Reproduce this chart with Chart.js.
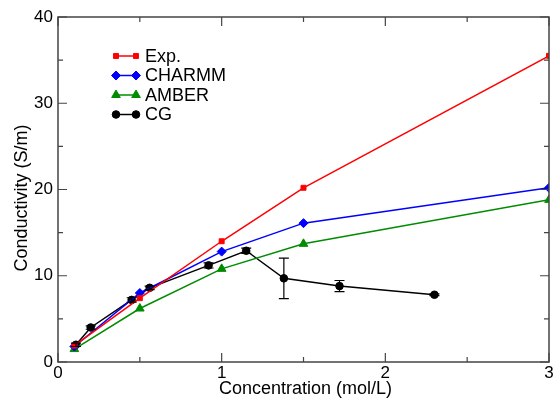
<!DOCTYPE html>
<html><head><meta charset="utf-8">
<script src="https://cdn.jsdelivr.net/npm/chart.js@4"></script>
<style>html,body{margin:0;padding:0;background:#fff}#c{display:block}</style>
</head><body>
<canvas id="c" width="555" height="401"></canvas>
<script>
const expX = [0.1, 0.5, 1.0, 1.5, 3.0];
const expY = [1.9, 7.4, 14.0, 20.2, 35.5];
const charmmX = [0.1, 0.5, 1.0, 1.5, 3.0];
const charmmY = [1.8, 8.0, 12.8, 16.1, 20.2];
const amberX = [0.1, 0.5, 1.0, 1.5, 3.0];
const amberY = [1.5, 6.2, 10.8, 13.7, 18.8];
const cgX = [0.11, 0.2, 0.45, 0.56, 0.92, 1.15, 1.38, 1.72, 2.3];
const cgY = [2.0, 4.0, 7.2, 8.6, 11.2, 12.9, 9.7, 8.8, 7.8];
const cgErr = [0.2, 0.2, 0.25, 0.2, 0.3, 0.3, 2.35, 0.65, 0.1];
const xTicks = [0, 1, 2, 3];
const yTicks = [0, 10, 20, 30, 40];
const names = ['Exp.', 'CHARMM', 'AMBER', 'CG'];
const xTitle = 'Concentration (mol/L)';
const yTitle = 'Conductivity (S/m)';

const pts = (xs, ys) => xs.map((x, i) => ({x, y: ys[i]}));
const FONT = 'Liberation Sans, Arial, sans-serif';

const frame = {
  id: 'frame',
  afterDraw(chart) {
    const {ctx, chartArea: a, scales: {x, y}} = chart;
    ctx.save();
    ctx.strokeStyle = '#444';
    ctx.lineWidth = 1.5;
    ctx.strokeRect(a.left, a.top, a.right - a.left, a.bottom - a.top);
    ctx.lineWidth = 1.2;
    ctx.beginPath();
    for (let v = 0; v <= 3.0001; v += 0.5) {
      const p = x.getPixelForValue(v);
      const L = Math.abs(v - Math.round(v)) < 1e-6 ? 9 : 5;
      ctx.moveTo(p, a.bottom); ctx.lineTo(p, a.bottom - L);
      ctx.moveTo(p, a.top); ctx.lineTo(p, a.top + L);
    }
    for (let v = 0; v <= 40.0001; v += 5) {
      const p = y.getPixelForValue(v);
      const L = v % 10 === 0 ? 9 : 5;
      ctx.moveTo(a.left, p); ctx.lineTo(a.left + L, p);
      ctx.moveTo(a.right, p); ctx.lineTo(a.right - L, p);
    }
    ctx.stroke();
    // error bars for CG
    ctx.strokeStyle = '#000';
    ctx.lineWidth = 1.2;
    ctx.beginPath();
    cgX.forEach((cx, i) => {
      const px = x.getPixelForValue(cx);
      const y1 = y.getPixelForValue(cgY[i] + cgErr[i]);
      const y2 = y.getPixelForValue(cgY[i] - cgErr[i]);
      ctx.moveTo(px, y1); ctx.lineTo(px, y2);
      ctx.moveTo(px - 5, y1); ctx.lineTo(px + 5, y1);
      ctx.moveTo(px - 5, y2); ctx.lineTo(px + 5, y2);
    });
    ctx.stroke();
    // axis titles
    ctx.fillStyle = '#000';
    ctx.font = '18px ' + FONT;
    ctx.textAlign = 'center';
    ctx.textBaseline = 'middle';
    ctx.fillText(xTitle, (a.left + a.right) / 2 + 2, 389);
    ctx.save();
    ctx.translate(22, 198);
    ctx.rotate(-Math.PI / 2);
    ctx.fillText(yTitle, 0, 0);
    ctx.restore();
    // legend
    const ds = chart.data.datasets;
    ctx.textAlign = 'left';
    ds.forEach((d, i) => {
      const ly = 56 + i * 19.5;
      ctx.strokeStyle = d.borderColor;
      ctx.fillStyle = d.backgroundColor;
      ctx.lineWidth = 1.5;
      ctx.beginPath(); ctx.moveTo(116, ly); ctx.lineTo(136, ly); ctx.stroke();
      ctx.lineWidth = 1;
      [116, 136].forEach(mx => {
        Chart.helpers.drawPoint(ctx, {pointStyle: d.pointStyle, radius: d.pointRadius, borderWidth: 1}, mx, ly);
      });
      ctx.fillStyle = '#000';
      ctx.fillText(names[i], 145, ly + 1);
    });
    ctx.restore();
  }
};

function ds(label, data, color, style, r) {
  return {label, data, borderColor: color, backgroundColor: color, pointStyle: style,
    pointRadius: r, pointHoverRadius: r, borderWidth: 1.5, pointBorderWidth: 1, showLine: true, tension: 0};
}

new Chart(document.getElementById('c'), {
  type: 'scatter',
  data: {datasets: [
    ds(names[0], pts(expX, expY), '#ff0000', 'rect', 3.5),
    ds(names[1], pts(charmmX, charmmY), '#0000ff', 'rectRot', 4.5),
    ds(names[2], pts(amberX, amberY), '#008c00', 'triangle', 5),
    ds(names[3], pts(cgX, cgY), '#000000', 'circle', 3.8)
  ]},
  options: {
    responsive: false, animation: false,
    layout: {padding: {top: 17, right: 1, left: 0, bottom: 0}},
    plugins: {legend: {display: false}, tooltip: {enabled: false}},
    scales: {
      x: {type: 'linear', min: 0, max: 3,
        afterBuildTicks: s => { s.ticks = xTicks.map(v => ({value: v})); },
        afterFit: s => { s.height = 39; },
        grid: {display: false, drawTicks: false}, border: {display: false},
        ticks: {color: '#000', font: {family: FONT, size: 17}, padding: 1, maxRotation: 0}
      },
      y: {type: 'linear', min: 0, max: 40,
        afterBuildTicks: s => { s.ticks = yTicks.map(v => ({value: v})); },
        afterFit: s => { s.width = 58; },
        grid: {display: false, drawTicks: false}, border: {display: false},
        ticks: {color: '#000', font: {family: FONT, size: 17}, padding: 5}
      }
    }
  },
  plugins: [frame]
});
</script>
</body></html>
